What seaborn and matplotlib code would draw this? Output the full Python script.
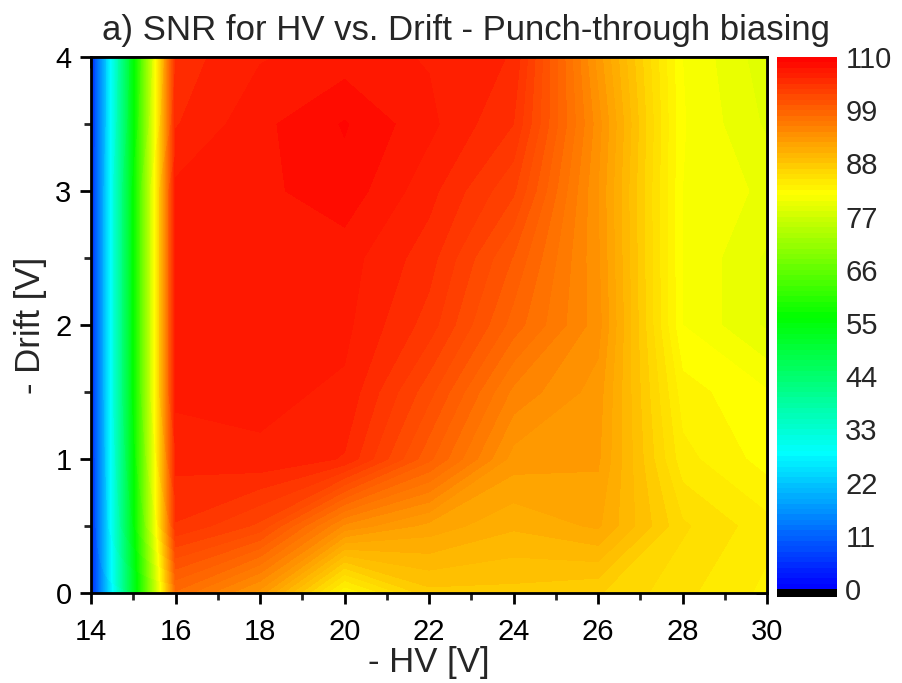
import numpy as np
import matplotlib
matplotlib.use("Agg")
import matplotlib.pyplot as plt
from matplotlib.colors import LinearSegmentedColormap
import seaborn as sns

# ---- data ----
hv = [14, 16, 18, 20, 22, 24, 26, 28, 30]
drift = [0, 0.5, 1, 1.5, 2, 2.5, 3, 3.5, 4]
# rows = drift values (0 .. 4), columns = hv values (14 .. 30)
snr_d0 = [4, 97.7, 93.0, 82.5, 87.6, 87.6, 87.0, 85.0, 83.3]
snr_d05 = [4, 104.4, 102.0, 94.3, 92.0, 90.4, 91.5, 86.0, 84.0]
snr_d1 = [4, 106.0, 106.5, 105.5, 99.3, 93.0, 92.6, 84.0, 82.0]
snr_d15 = [4, 107.0, 107.0, 106.5, 101.6, 95.4, 93.0, 83.0, 81.5]
snr_d2 = [4, 107.0, 107.0, 107.0, 104.0, 98.5, 94.0, 81.4, 79.0]
snr_d25 = [4, 107.0, 107.3, 107.2, 105.0, 100.0, 93.7, 81.4, 79.0]
snr_d3 = [4, 107.0, 107.5, 108.5, 106.0, 102.5, 93.5, 81.4, 80.0]
snr_d35 = [4, 105.5, 107.5, 109.0, 107.0, 104.5, 94.0, 81.5, 79.0]
snr_d4 = [4, 105.0, 106.6, 107.2, 106.6, 105.5, 93.0, 81.4, 78.5]
cbar_ticks = [0, 11, 22, 33, 44, 55, 66, 77, 88, 99, 110]

Z = np.array([snr_d0, snr_d05, snr_d1, snr_d15, snr_d2, snr_d25, snr_d3, snr_d35, snr_d4])
X, Y = np.meshgrid(hv, drift)

sns.set_style("ticks")
plt.rcParams['font.family'] = ['Liberation Sans', 'DejaVu Sans']

cmap = LinearSegmentedColormap.from_list(
    "origin_rainbow",
    [(0.0, "#0000ff"), (0.255, "#00ffff"), (0.51, "#00ff00"),
     (0.745, "#ffff00"), (1.0, "#ff0000")])
cmap.set_under("black")

fig = plt.figure(figsize=(9.03, 6.83), dpi=100)
ax = fig.add_axes([0.1008, 0.1318, 0.7486, 0.7847])
levels = np.linspace(0, 110, 101)
cs = ax.contourf(X, Y, Z, levels=levels, cmap=cmap, extend='min')

ax.set_xlim(14, 30)
ax.set_ylim(0, 4)
ax.set_xticks(range(14, 31, 2))
ax.set_xticks(range(15, 30, 2), minor=True)
ax.set_yticks([0, 1, 2, 3, 4])
ax.set_yticks([0.5, 1.5, 2.5, 3.5], minor=True)
ax.tick_params(which='major', direction='out', length=8, width=2, labelsize=21, colors='black')
ax.tick_params(which='minor', direction='out', length=5, width=2)
ax.tick_params(axis='x', pad=10)
ax.tick_params(axis='y', pad=6)
for s in ax.spines.values():
    s.set_linewidth(2)
    s.set_color('black')

# top and right ticks pointing inward
secx = ax.secondary_xaxis('top')
secx.set_xticks(range(14, 31, 2))
secx.set_xticks(range(15, 30, 2), minor=True)
secx.tick_params(which='major', direction='in', length=8, width=2, labeltop=False)
secx.tick_params(which='minor', direction='in', length=5, width=2)
secx.spines['top'].set_linewidth(2)
secy = ax.secondary_yaxis('right')
secy.set_yticks([0, 1, 2, 3, 4])
secy.set_yticks([0.5, 1.5, 2.5, 3.5], minor=True)
secy.tick_params(which='major', direction='in', length=8, width=2, labelright=False)
secy.tick_params(which='minor', direction='in', length=5, width=2)
secy.spines['right'].set_linewidth(2)

ax.set_xlabel("- HV [V]", fontsize=25, labelpad=0)
ax.set_ylabel("- Drift [V]", fontsize=25, labelpad=6)
ax.set_title("a) SNR for HV vs. Drift - Punch-through biasing", fontsize=25, pad=12, x=0.555)

cax = fig.add_axes([0.8605, 0.126, 0.0664, 0.7905])
cb = fig.colorbar(cs, cax=cax, extend='min', extendrect=True, extendfrac=0.015)
cb.set_ticks(cbar_ticks)
cb.ax.tick_params(length=0, labelsize=21, pad=6)
cb.outline.set_visible(False)

fig.savefig("out.png", dpi=100)
